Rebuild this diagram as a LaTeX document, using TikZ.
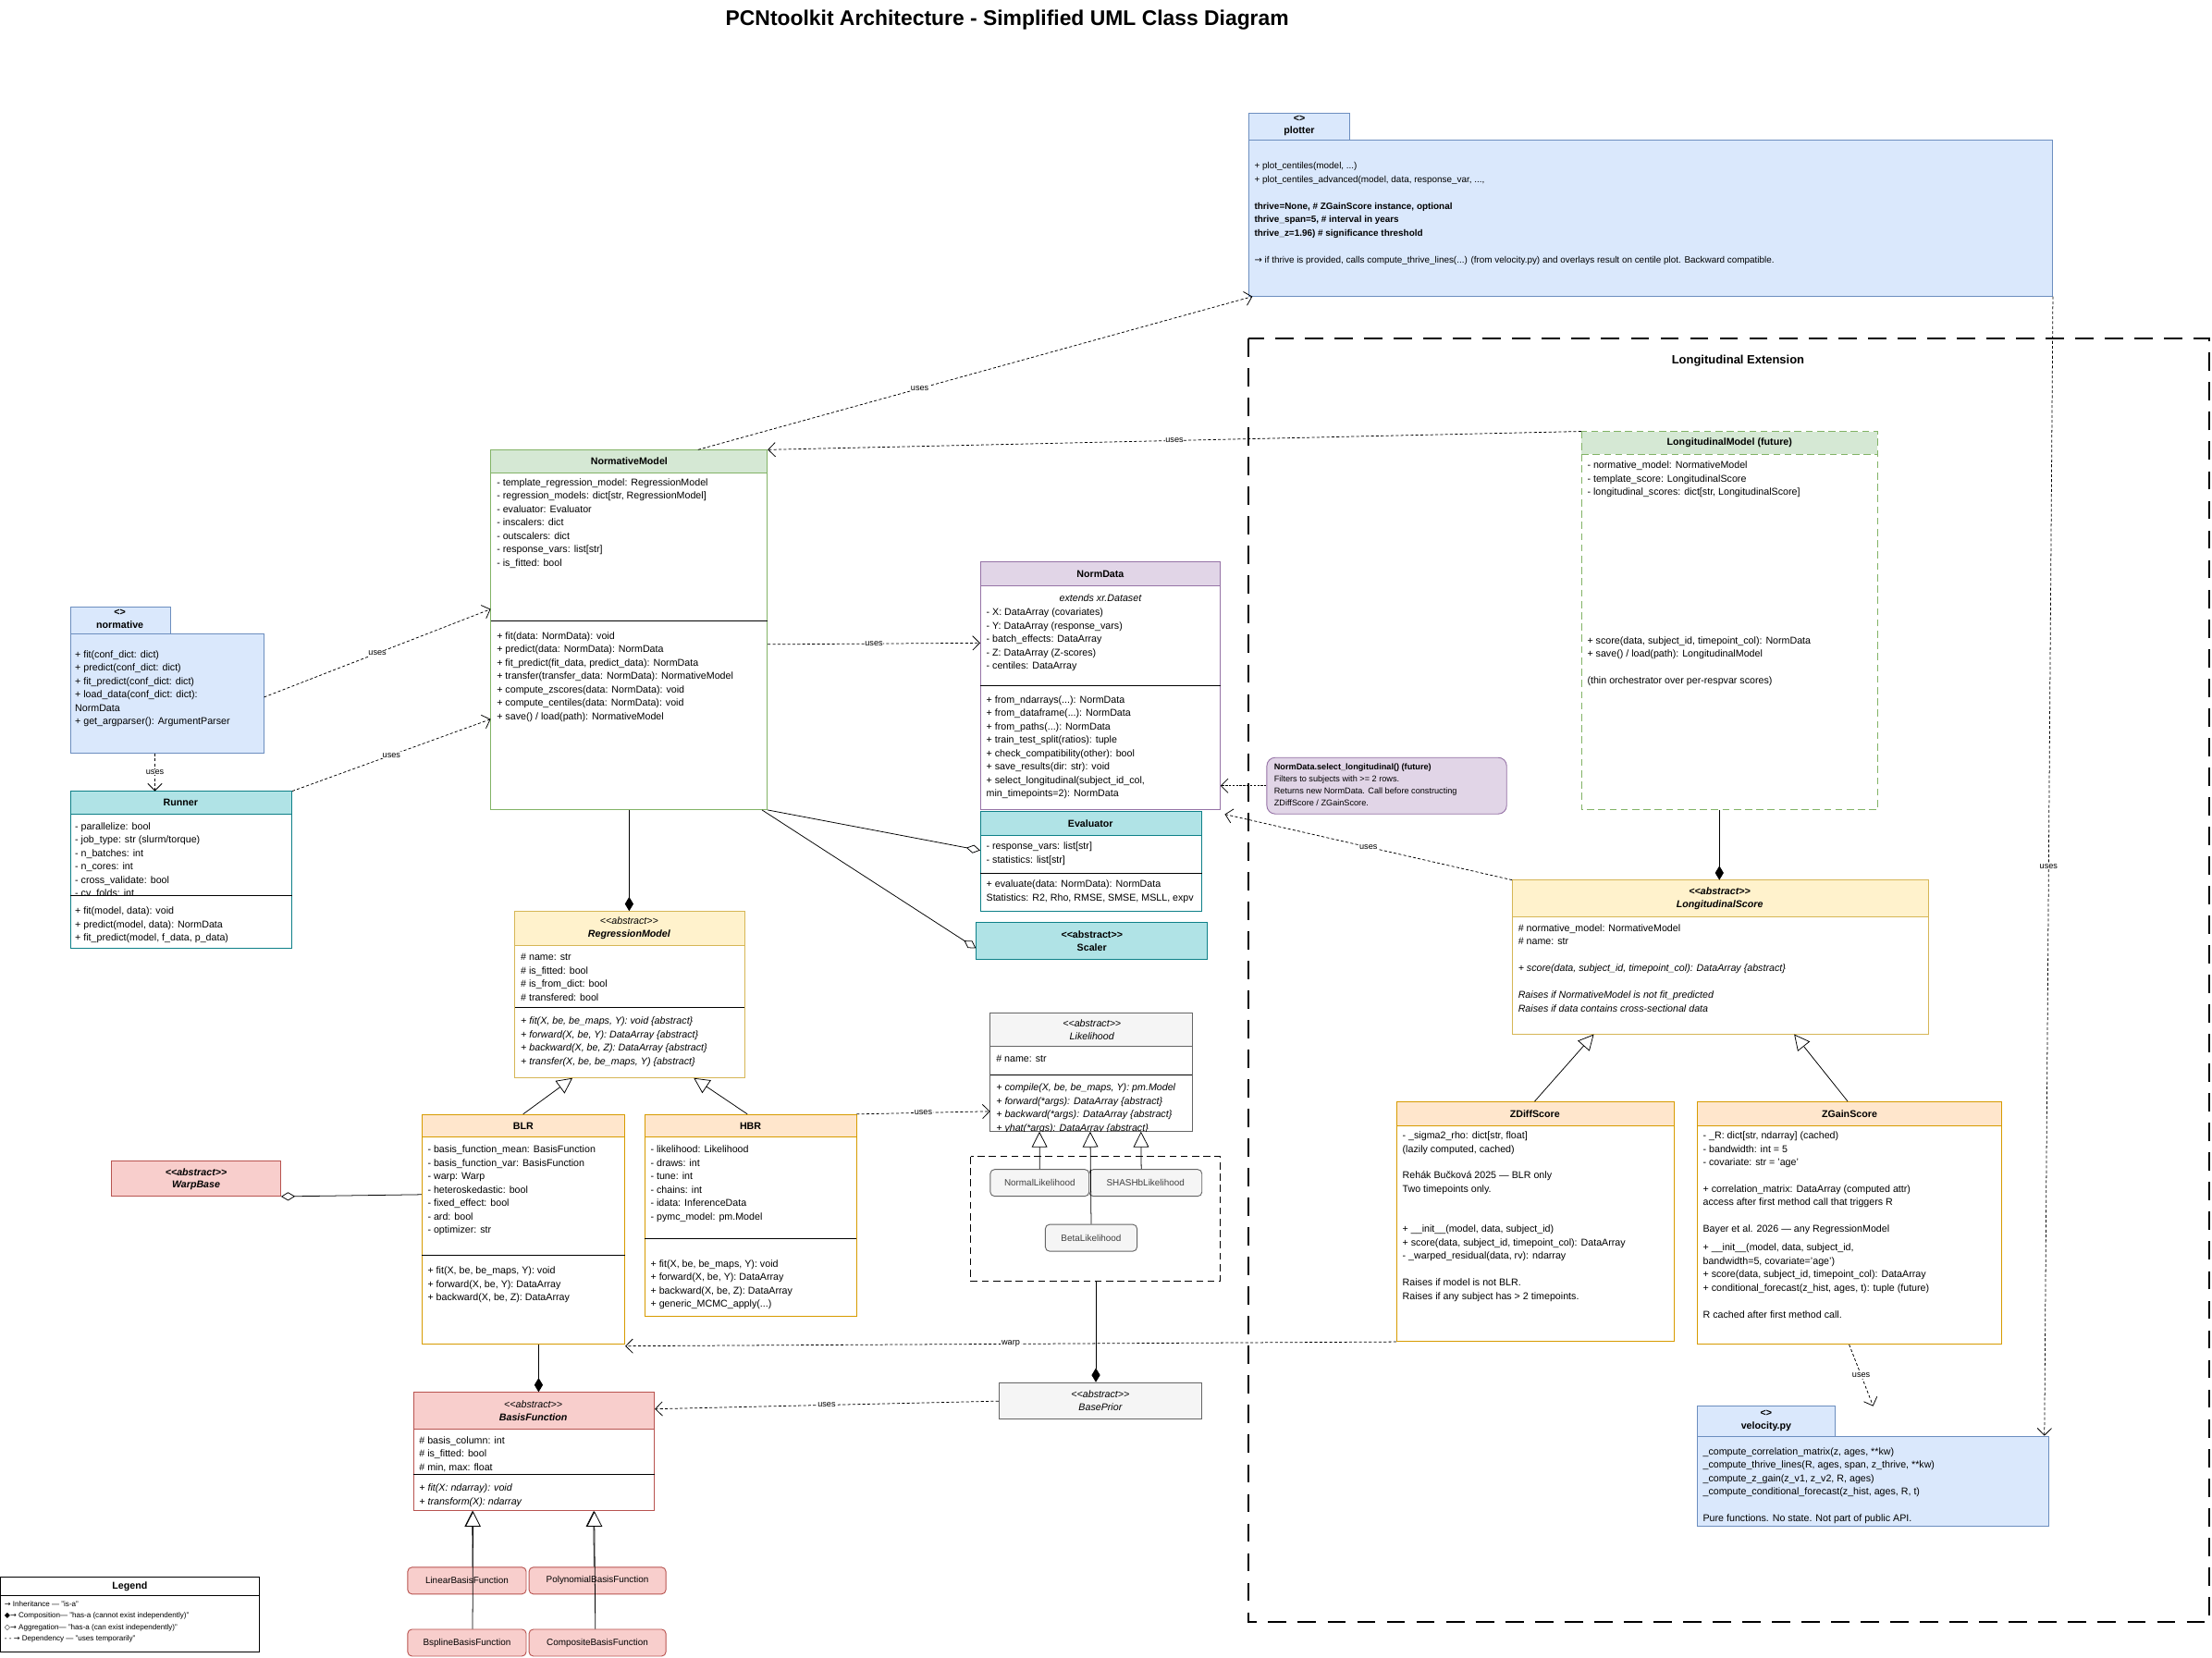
\documentclass[tikz,border=0pt]{standalone}
\usepackage{fontspec}
\setmainfont{Liberation Sans}
\newfontfamily\dv{DejaVu Sans}
\usetikzlibrary{arrows.meta,fit,calc}
\definecolor{blueF}{HTML}{DAE8FC}\definecolor{blueS}{HTML}{6C8EBF}
\definecolor{greenF}{HTML}{D5E8D4}\definecolor{greenS}{HTML}{82B366}
\definecolor{purF}{HTML}{E1D5E7}\definecolor{purS}{HTML}{9673A6}
\definecolor{tealF}{HTML}{B0E3E6}\definecolor{tealS}{HTML}{0E8088}
\definecolor{yelF}{HTML}{FFF2CC}\definecolor{yelS}{HTML}{D6B656}
\definecolor{orF}{HTML}{FFE6CC}\definecolor{orS}{HTML}{D79B00}
\definecolor{redF}{HTML}{F8CECC}\definecolor{redS}{HTML}{B85450}
\definecolor{grF}{HTML}{F5F5F5}\definecolor{grS}{HTML}{666666}
\newcommand\abst{<\kern0pt<abstract>\kern0pt>}
\newcommand\ucls[8]{%
 \coordinate (#1-nw) at (#2,#3); \coordinate (#1-se) at (#4,#5);
 \fill[#7] (#2,#3) rectangle (#4,#6);
 \draw[#8, line width=0.6pt] (#2,#3) rectangle (#4,#5) (#2,#6) -- (#4,#6);
 \node[fit=(#1-nw)(#1-se), inner sep=0] (#1) {};}
\newcommand\sep[3]{\draw[line width=0.8pt] (#1,#3) -- (#2,#3);}
\newcommand\tx[3]{\node[txt] at (#1,#2) {#3};}
\begin{document}
\begin{tikzpicture}[x=1pt,y=-1pt,
 txt/.style={anchor=north west, inner sep=0, align=left, font=\fontsize{7}{9.5}\selectfont},
 stx/.style={anchor=north west, inner sep=0, align=left, font=\fontsize{6}{8.6}\selectfont},
 hd/.style={align=center, inner sep=0, font=\fontsize{7}{9}\selectfont\bfseries},
 hdi/.style={align=center, inner sep=0, font=\fontsize{7}{9}\selectfont\itshape},
 uses/.style={dash pattern=on 2pt off 1.5pt, line width=0.5pt, -{Straight Barb[length=5pt,width=10pt]}},
 lbl/.style={font=\fontsize{6}{7}\selectfont, fill=white, inner sep=0.5pt},
 inh/.style={line width=0.5pt, -{Triangle[open,length=11pt,width=11pt,fill=white]}},
 comp/.style={line width=0.5pt, -{Diamond[length=10pt,width=6pt]}},
 agg/.style={line width=0.5pt, -{Diamond[open,length=10pt,width=6pt,fill=white]}},
 rnd/.style={draw, rounded corners=3pt, line width=0.6pt, inner sep=0, font=\fontsize{6.5}{8}\selectfont}]
\useasboundingbox (0,0) rectangle (1568,1175);
\fill[white] (0,0) rectangle (1568,1175);
\node[font=\fontsize{15}{18}\selectfont\bfseries] (title) at (714,14) {PCNtoolkit Architecture - Simplified UML Class Diagram};

% Longitudinal frame
\draw[line width=1.2pt, dash pattern=on 13pt off 8pt] (885,240) rectangle (1566,1150);
\node[font=\fontsize{8.5}{10}\selectfont\bfseries] (lext) at (1232,256) {Longitudinal Extension};

% plotter
\draw[blueS, fill=blueF, line width=0.6pt] (885,80) rectangle (957,99);
\node[hd] (plt) at (921,89) {<>\\plotter};
\draw[blueS, fill=blueF, line width=0.6pt] (885,99) rectangle (1455,210);
\node[fit={(885,99)(1455,210)}, inner sep=0] (plb) {};
\node[txt, font=\fontsize{6.5}{9.5}\selectfont] at (889,115) {+ plot\_centiles(model, ...)\\+ plot\_centiles\_advanced(model, data, response\_var, ...,\\~\\\textbf{thrive=None, \# ZGainScore instance, optional}\\\textbf{thrive\_span=5, \# interval in years}\\\textbf{thrive\_z=1.96) \# significance threshold}\\~\\{\dv →} if thrive is provided, calls compute\_thrive\_lines(...) (from velocity.py) and overlays result on centile plot. Backward compatible.};

% NormativeModel
\ucls{nm}{348}{319}{544}{574}{335}{greenF}{greenS}
\node[hd] at (446,327) {NormativeModel};
\tx{352}{339}{- template\_regression\_model: RegressionModel\\- regression\_models: dict[str, RegressionModel]\\- evaluator: Evaluator\\- inscalers: dict\\- outscalers: dict\\- response\_vars: list[str]\\- is\_fitted: bool}
\sep{348}{544}{440}
\tx{352}{448}{+ fit(data: NormData): void\\+ predict(data: NormData): NormData\\+ fit\_predict(fit\_data, predict\_data): NormData\\+ transfer(transfer\_data: NormData): NormativeModel\\+ compute\_zscores(data: NormData): void\\+ compute\_centiles(data: NormData): void\\+ save() / load(path): NormativeModel}

% NormData
\ucls{nd}{695}{398}{865}{574}{415}{purF}{purS}
\node[hd] at (780,407) {NormData};
\node[hdi, font=\fontsize{7}{9}\selectfont\itshape] at (780,424) {extends xr.Dataset};
\tx{699}{431}{- X: DataArray (covariates)\\- Y: DataArray (response\_vars)\\- batch\_effects: DataArray\\- Z: DataArray (Z-scores)\\- centiles: DataArray}
\sep{695}{865}{486}
\tx{699}{493}{+ from\_ndarrays(...): NormData\\+ from\_dataframe(...): NormData\\+ from\_paths(...): NormData\\+ train\_test\_split(ratios): tuple\\+ check\_compatibility(other): bool\\+ save\_results(dir: str): void\\+ select\_longitudinal(subject\_id\_col,\\min\_timepoints=2): NormData}

% Evaluator
\ucls{ev}{695}{575}{852}{646}{592}{tealF}{tealS}
\node[hd] at (773,584) {Evaluator};
\tx{699}{597}{- response\_vars: list[str]\\- statistics: list[str]}
\sep{695}{852}{619}
\begin{scope}
\clip (695,619) rectangle (851,646);
\tx{699}{624}{+ evaluate(data: NormData): NormData\\Statistics: R2, Rho, RMSE, SMSE, MSLL, expv}
\end{scope}

% Scaler
\draw[tealS, fill=tealF, line width=0.6pt] (692,654) rectangle (856,680);
\node[fit={(692,654)(856,680)}, inner sep=0] (sc) {};
\node[hd] at (774,667) {\abst\\Scaler};

% normative package
\draw[blueS, fill=blueF, line width=0.6pt] (50,430) rectangle (121,449);
\node[hd] (npt) at (85,439) {<>\\normative};
\draw[blueS, fill=blueF, line width=0.6pt] (50,449) rectangle (187,534);
\node[fit={(50,449)(187,534)}, inner sep=0] (nb) {};
\tx{53}{461}{+ fit(conf\_dict: dict)\\+ predict(conf\_dict: dict)\\+ fit\_predict(conf\_dict: dict)\\+ load\_data(conf\_dict: dict):\\NormData\\+ get\_argparser(): ArgumentParser}

% Runner
\ucls{rn}{50}{561}{207}{672}{577}{tealF}{tealS}
\node[hd] at (128,569) {Runner};
\begin{scope}
\clip (50,577) rectangle (207,635);
\tx{53}{583}{- parallelize: bool\\- job\_type: str (slurm/torque)\\- n\_batches: int\\- n\_cores: int\\- cross\_validate: bool\\- cv\_folds: int}
\end{scope}
\sep{50}{207}{635}
\tx{53}{643}{+ fit(model, data): void\\+ predict(model, data): NormData\\+ fit\_predict(model, f\_data, p\_data)}

% RegressionModel
\ucls{rm}{365}{646}{528}{764}{670}{yelF}{yelS}
\node[hdi] at (446,658) {\abst\\\textbf{RegressionModel}};
\tx{369}{676}{\# name: str\\\# is\_fitted: bool\\\# is\_from\_dict: bool\\\# transfered: bool}
\sep{365}{528}{714}
\tx{369}{721}{\itshape + fit(X, be, be\_maps, Y): void \{abstract\}\\\itshape + forward(X, be, Y): DataArray \{abstract\}\\\itshape + backward(X, be, Z): DataArray \{abstract\}\\\itshape + transfer(X, be, be\_maps, Y) \{abstract\}}

% BLR
\ucls{blr}{299}{790}{443}{953}{806}{orF}{orS}
\node[hd] at (371,798) {BLR};
\tx{303}{812}{- basis\_function\_mean: BasisFunction\\- basis\_function\_var: BasisFunction\\- warp: Warp\\- heteroskedastic: bool\\- fixed\_effect: bool\\- ard: bool\\- optimizer: str}
\sep{299}{443}{890}
\tx{303}{898}{+ fit(X, be, be\_maps, Y): void\\+ forward(X, be, Y): DataArray\\+ backward(X, be, Z): DataArray}

% HBR
\ucls{hbr}{457}{790}{607}{933}{806}{orF}{orS}
\node[hd] at (532,798) {HBR};
\tx{461}{812}{- likelihood: Likelihood\\- draws: int\\- tune: int\\- chains: int\\- idata: InferenceData\\- pymc\_model: pm.Model}
\sep{457}{607}{878}
\tx{461}{893}{+ fit(X, be, be\_maps, Y): void\\+ forward(X, be, Y): DataArray\\+ backward(X, be, Z): DataArray\\+ generic\_MCMC\_apply(...)}

% WarpBase
\draw[redS, fill=redF, line width=0.6pt] (79,823) rectangle (199,848);
\node[fit={(79,823)(199,848)}, inner sep=0] (wb) {};
\node[hdi] at (139,836) {\bfseries\abst\\\bfseries WarpBase};

% Likelihood
\ucls{lk}{702}{718}{845}{802}{742}{grF}{grS}
\node[hdi] at (774,730) {\abst\\Likelihood};
\tx{706}{748}{\# name: str}
\sep{702}{845}{762}
\begin{scope}
\clip (702,762) rectangle (844,802);
\tx{706}{768}{\itshape + compile(X, be, be\_maps, Y): pm.Model\\\itshape + forward(*args): DataArray \{abstract\}\\\itshape + backward(*args): DataArray \{abstract\}\\\itshape + yhat(*args): DataArray \{abstract\}}
\end{scope}

% likelihood group
\draw[line width=0.6pt, dash pattern=on 5pt off 3pt] (688,820) rectangle (865,908);
\node[fit={(688,820)(865,908)}, inner sep=0] (gl) {};
\node[rnd, draw=grS, fill=grF, text=black!75, minimum width=70pt, minimum height=19pt] (nl) at (737,838.5) {NormalLikelihood};
\node[rnd, draw=grS, fill=grF, text=black!75, minimum width=80pt, minimum height=19pt] (sh) at (812,838.5) {SHASHbLikelihood};
\node[rnd, draw=grS, fill=grF, text=black!75, minimum width=65pt, minimum height=19pt] (be) at (773.5,877.5) {BetaLikelihood};
\draw[inh] (nl.north) -- ([xshift=35pt]lk.south west);
\draw[inh] ([xshift=-3pt]sh.north) -- ([xshift=107pt]lk.south west);
\draw[inh] (be.north) -- ([xshift=71pt]lk.south west);

% BasePrior
\draw[grS, fill=grF, line width=0.6pt] (708,980) rectangle (852,1006);
\node[fit={(708,980)(852,1006)}, inner sep=0] (bp) {};
\node[hdi] at (780,993) {\abst\\BasePrior};

% BasisFunction
\ucls{bf}{293}{987}{464}{1071}{1013}{redF}{redS}
\node[hdi] at (378,1000) {\abst\\\textbf{BasisFunction}};
\tx{297}{1018}{\# basis\_column: int\\\# is\_fitted: bool\\\# min, max: float}
\sep{293}{464}{1045}
\tx{297}{1052}{\itshape + fit(X: ndarray): void\\\itshape + transform(X): ndarray}
\node[rnd, draw=redS, fill=redF, minimum width=84pt, minimum height=19pt] (lbf) at (331,1120.5) {LinearBasisFunction};
\node[rnd, draw=redS, fill=redF, minimum width=97pt, minimum height=19pt] (pbf) at (423.5,1120.5) {PolynomialBasisFunction};
\node[rnd, draw=redS, fill=redF, minimum width=84pt, minimum height=19pt] (bbf) at (331,1164.5) {BsplineBasisFunction};
\node[rnd, draw=redS, fill=redF, minimum width=97pt, minimum height=19pt] (cbf) at (423.5,1164.5) {CompositeBasisFunction};
\draw[inh] ([xshift=4pt]lbf.north) -- ([xshift=42pt]bf.south west);
\draw[inh] ([xshift=4pt]bbf.north) -- ([xshift=42.5pt]bf.south west);
\draw[inh] ([xshift=-2.5pt]pbf.north) -- ([xshift=128pt]bf.south west);
\draw[inh] ([xshift=-1.5pt]cbf.north) -- ([xshift=128.5pt]bf.south west);

% Legend
\draw[line width=0.6pt] (0,1118) rectangle (184,1171) (0,1131) -- (184,1131);
\node[fit={(0,1118)(184,1171)}, inner sep=0] (leg) {};
\node[font=\fontsize{7}{8}\selectfont\bfseries] at (92,1125) {Legend};
\node[stx, font=\fontsize{5.3}{8}\selectfont] at (3,1135) {{\dv →} Inheritance — "is-a"\\{\dv ◆→} Composition— "has-a (cannot exist independently)"\\{\dv ◇→} Aggregation— "has-a (can exist independently)"\\- - {\dv →} Dependency — "uses temporarily"};

% LongitudinalModel
\fill[greenF] (1121,306) rectangle (1331,322);
\draw[greenS, line width=0.6pt, dash pattern=on 5pt off 3pt] (1121,306) rectangle (1331,574) (1121,322) -- (1331,322);
\node[fit={(1121,306)(1331,574)}, inner sep=0] (lm) {};
\node[hd] at (1226,314) {LongitudinalModel (future)};
\tx{1125}{327}{- normative\_model: NormativeModel\\- template\_score: LongitudinalScore\\- longitudinal\_scores: dict[str, LongitudinalScore]}
\tx{1125}{451}{+ score(data, subject\_id, timepoint\_col): NormData\\+ save() / load(path): LongitudinalModel\\~\\(thin orchestrator over per-respvar scores)}

% Note
\node[rnd, draw=purS, fill=purF, rounded corners=6pt, minimum width=170pt, minimum height=40pt] (no) at (983,557) {};
\node[stx] at (903,541) {\textbf{NormData.select\_longitudinal() (future)}\\Filters to subjects with >= 2 rows.\\Returns new NormData. Call before constructing\\ZDiffScore / ZGainScore.};

% LongitudinalScore
\ucls{ls}{1072}{624}{1367}{733}{650}{yelF}{yelS}
\node[hdi] at (1219,637) {\bfseries\abst\\\bfseries LongitudinalScore};
\tx{1076}{655}{\# normative\_model: NormativeModel\\\# name: str\\~\\\itshape + score(data, subject\_id, timepoint\_col): DataArray \{abstract\}\\~\\\itshape Raises if NormativeModel is not fit\_predicted\\\itshape Raises if data contains cross-sectional data}

% ZDiffScore
\ucls{zd}{990}{781}{1187}{951}{798}{orF}{orS}
\node[hd] at (1088,790) {ZDiffScore};
\tx{994}{802}{- \_sigma2\_rho: dict[str, float]\\(lazily computed, cached)\\~\\Rehák Bučková 2025 — BLR only\\Two timepoints only.\\~\\~\\+ \_\_init\_\_(model, data, subject\_id)\\+ score(data, subject\_id, timepoint\_col): DataArray\\- \_warped\_residual(data, rv): ndarray\\~\\Raises if model is not BLR.\\Raises if any subject has > 2 timepoints.}

% ZGainScore
\ucls{zg}{1203}{781}{1419}{953}{798}{orF}{orS}
\node[hd] at (1311,790) {ZGainScore};
\tx{1207}{802}{- \_R: dict[str, ndarray] (cached)\\- bandwidth: int = 5\\- covariate: str = 'age'\\~\\+ correlation\_matrix: DataArray (computed attr)\\access after first method call that triggers R\\~\\Bayer et al. 2026 — any RegressionModel\\~\\[-6pt]+ \_\_init\_\_(model, data, subject\_id,\\bandwidth=5, covariate='age')\\+ score(data, subject\_id, timepoint\_col): DataArray\\+ conditional\_forecast(z\_hist, ages, t): tuple (future)\\~\\R cached after first method call.}

% velocity
\draw[blueS, fill=blueF, line width=0.6pt] (1203,997) rectangle (1301,1018);
\node[hd] (vpt) at (1252,1007) {<>\\velocity.py};
\draw[blueS, fill=blueF, line width=0.6pt] (1203,1018) rectangle (1452,1082);
\node[fit={(1203,1018)(1452,1082)}, inner sep=0] (vb) {};
\tx{1207}{1026}{\_compute\_correlation\_matrix(z, ages, **kw)\\\_compute\_thrive\_lines(R, ages, span, z\_thrive, **kw)\\\_compute\_z\_gain(z\_v1, z\_v2, R, ages)\\\_compute\_conditional\_forecast(z\_hist, ages, R, t)\\~\\Pure functions. No state. Not part of public API.}

% ---------- connectors ----------
\draw[uses] ([xshift=147pt]nm.north west) -- node[lbl, pos=0.4] {uses} ([xshift=3pt]plb.south west);
\draw[uses] (lm.north west) -- node[lbl, pos=0.5] {uses} (nm.north east);
\draw[uses] ([yshift=40pt]nb.south east) -- node[lbl] {uses} ([yshift=-113pt]nm.north west);
\draw[uses] (rn.north east) -- node[lbl] {uses} ([yshift=-191pt]nm.north west);
\draw[uses] ([xshift=60pt]nb.south west) -- node[lbl] {uses} ([xshift=60pt]rn.north west);
\draw[uses] ([yshift=-138pt]nm.north east) -- node[lbl] {uses} ([yshift=-58pt]nd.north west);
\draw[comp] (nm.south) -- (nm.south |- rm.north);
\draw[agg] (nm.south east) -- ([yshift=-28pt]ev.north west);
\draw[agg] ([xshift=-4pt]nm.south east) -- ([yshift=8pt]sc.south west);
\draw[inh] ([xshift=72pt]blr.north west) -- ([xshift=41pt]rm.south west);
\draw[inh] ([xshift=73pt]hbr.north west) -- ([xshift=127pt]rm.south west);
\draw[uses] (hbr.north east) -- node[lbl] {uses} ([yshift=-70pt]lk.north west);
\draw[agg] ([yshift=-57pt]blr.north west) -- (wb.south east);
\draw[comp] ([xshift=83pt]blr.south west) -- ([xshift=83pt]blr.south west |- bf.north);
\draw[comp] ([xshift=89pt]gl.south west) -- ([xshift=89pt]gl.south west |- bp.north);
\draw[uses] ([yshift=13pt]bp.south west) -- node[lbl] {uses} ([yshift=-12pt]bf.north east);
\draw[uses] (zd.south west) -- node[lbl] {warp} ([yshift=-1pt]blr.south east);
\draw[uses, dash pattern=on 1.5pt off 1pt] (no.west) -- (no.west -| nd.east);
\draw[uses] (ls.north west) -- node[lbl] {uses} ([xshift=3pt,yshift=-3pt]nd.south east);
\draw[comp] ([xshift=98pt]lm.south west) -- ([xshift=98pt]lm.south west |- ls.north);
\draw[inh] ([xshift=98pt]zd.north west) -- ([xshift=58pt]ls.south west);
\draw[inh] ([xshift=107pt]zg.north west) -- ([xshift=200pt]ls.south west);
\draw[uses] ([xshift=108pt]zg.south west) -- node[lbl] {uses} ([xshift=125pt,yshift=21pt]vb.north west);
\draw[uses] (plb.south east) -- node[lbl] {uses} ([xshift=-3pt]vb.north east);
\end{tikzpicture}
\end{document}
